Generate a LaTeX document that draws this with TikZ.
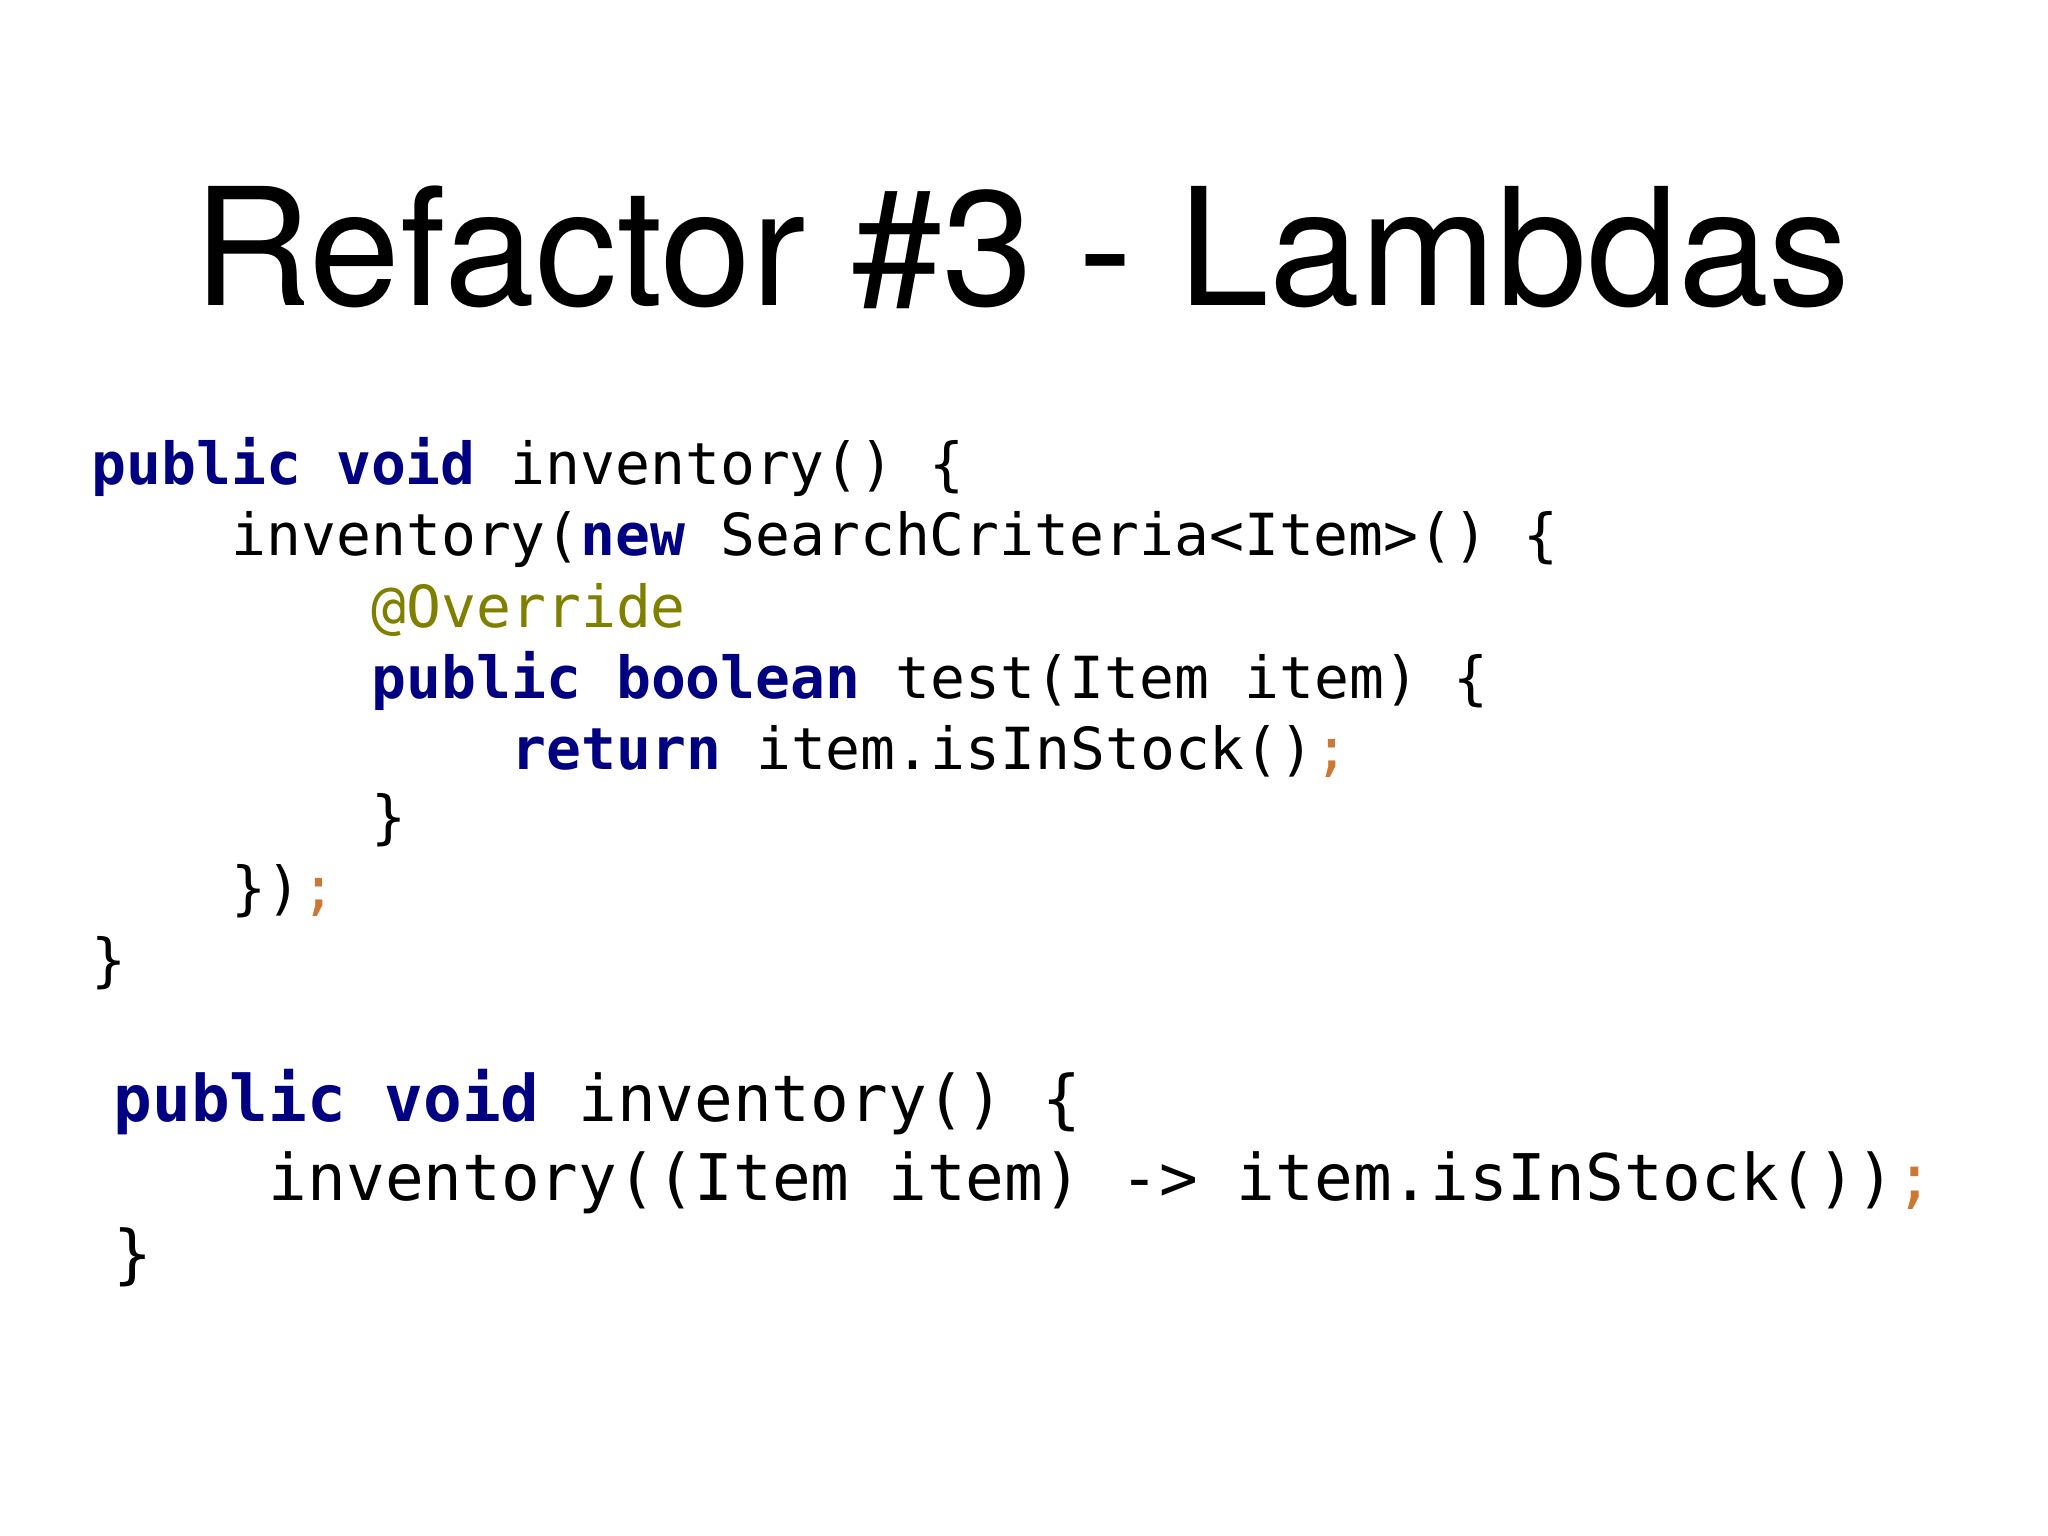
\documentclass[tikz,border=0pt]{standalone}
\usepackage{fontspec}
\setmainfont{TeX Gyre Heros}
\setmonofont{DejaVu Sans Mono}
\definecolor{kwblue}{HTML}{000080}
\definecolor{anno}{HTML}{808000}
\definecolor{semi}{HTML}{CC7832}
\newcommand{\kw}[1]{\textbf{\color{kwblue}#1}}
\newcommand{\sm}{{\color{semi};}}
\begin{document}
\begin{tikzpicture}[x=1cm,y=1cm,
  codeA/.style={anchor=base west,inner sep=0pt,font=\fontsize{16.5pt}{18pt}\ttfamily},
  codeB/.style={anchor=base west,inner sep=0pt,font=\fontsize{18.3pt}{20pt}\ttfamily}]
\useasboundingbox (0,0) rectangle (20.48,-15.36);
\node[anchor=base,inner sep=0pt,font=\fontsize{46.5pt}{50pt}\selectfont] (title) at (10.22,-3.06) {Refactor \#3 - Lambdas};
\def\cw{0.35}
\node[codeA] (a1) at (0.91,-4.85) {\kw{public} \kw{void} inventory() \{};
\node[codeA] (a2) at (0.91+4*\cw,-5.56) {inventory(\kw{new} SearchCriteria<Item>() \{};
\node[codeA] (a3) at (0.91+8*\cw,-6.27) {\color{anno}@Override};
\node[codeA] (a4) at (0.91+8*\cw,-6.98) {\kw{public} \kw{boolean} test(Item item) \{};
\node[codeA] (a5) at (0.91+12*\cw,-7.69) {\kw{return} item.isInStock()\sm};
\node[codeA] (a6) at (0.91+8*\cw,-8.38) {\}};
\node[codeA] (a7) at (0.91+4*\cw,-9.09) {\})\sm};
\node[codeA] (a8) at (0.91,-9.80) {\}};
\def\cwb{0.388}
\node[codeB] (b1) at (1.13,-11.21) {\kw{public} \kw{void} inventory() \{};
\node[codeB] (b2) at (1.13+4*\cwb,-12.00) {inventory((Item item) -> item.isInStock())\sm};
\node[codeB] (b3) at (1.13,-12.76) {\}};
\end{tikzpicture}
\end{document}
